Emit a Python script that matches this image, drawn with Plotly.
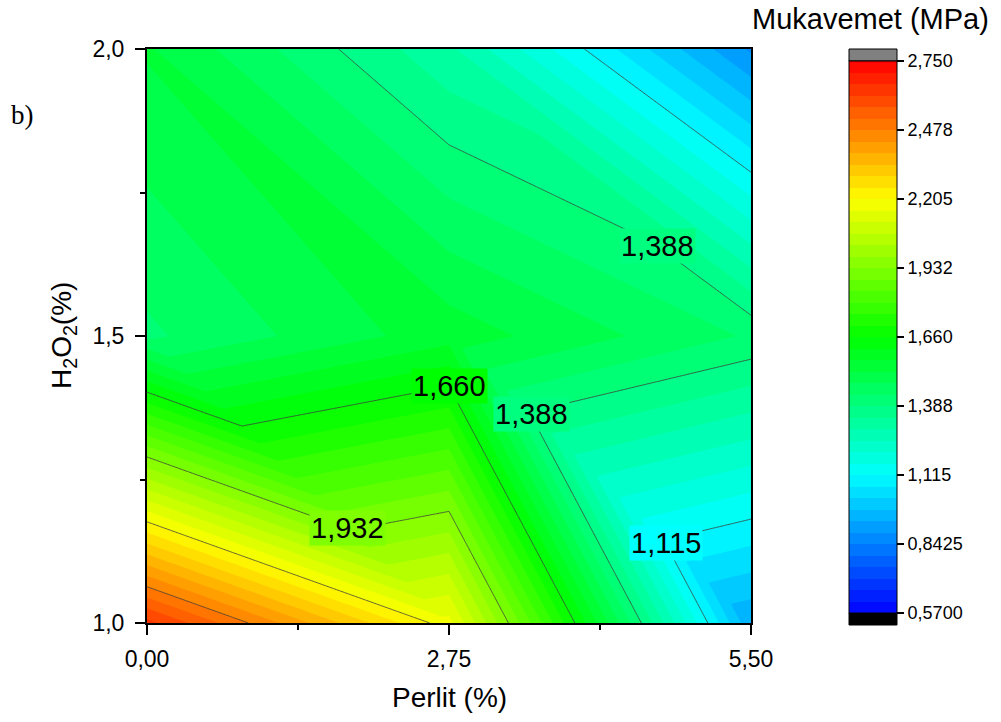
import numpy as np
import plotly.graph_objects as go

# ---- data ----
perlit = [0.0, 2.75, 5.5]            # x, Perlit (%)
h2o2 = [1.0, 1.5, 2.0]               # y, H2O2 (%)
# mukavemet[row=h2o2][col=perlit], MPa
mukavemet = [
    [2.630, 2.176, 0.938],
    [1.424, 1.550, 1.427],
    [1.529, 1.306, 0.880],
]
cbar_ticks = [0.57, 0.8425, 1.115, 1.3875, 1.66, 1.9325, 2.205, 2.4775, 2.75]
cbar_ticktext = ["0,5700", "0,8425", "1,115", "1,388", "1,660", "1,932", "2,205", "2,478", "2,750"]
line_levels = [1.115, 1.3875, 1.66, 1.9325, 2.205, 2.4775]
# contour labels as placed in the reference (level value, perlit, h2o2)
label_levels = [1.388, 1.660, 1.388, 1.932, 1.115]
label_x = [4.644, 2.750, 3.497, 1.830, 4.726]
label_y = [1.657, 1.413, 1.364, 1.166, 1.139]
z_lo, z_hi, n_bands = 0.57, 2.75, 48

# ---- triangulated linear surface (as Origin renders XYZ contours) ----
X = np.asarray(perlit); Y = np.asarray(h2o2); Z = np.asarray(mukavemet)
gx = np.linspace(X[0], X[-1], 441)
gy = np.linspace(Y[0], Y[-1], 301)
GX, GY = np.meshgrid(gx, gy)
i = np.clip(np.searchsorted(X, GX, side="right") - 1, 0, len(X) - 2)
j = np.clip(np.searchsorted(Y, GY, side="right") - 1, 0, len(Y) - 2)
u = (GX - X[i]) / (X[i + 1] - X[i])
v = (GY - Y[j]) / (Y[j + 1] - Y[j])
z00 = Z[j, i]; z10 = Z[j, i + 1]; z01 = Z[j + 1, i]; z11 = Z[j + 1, i + 1]
lower = (u + v) <= 1
f_low = z00 + u * (z10 - z00) + v * (z01 - z00)
f_up = z11 + (1 - u) * (z01 - z11) + (1 - v) * (z10 - z11)
GZ = np.where(lower, f_low, f_up).astype(np.float32)

FONT = "Liberation Sans"
rainbow = [[0, "#0000ff"], [0.25, "#00ffff"], [0.5, "#00ff00"], [0.75, "#ffff00"], [1, "#ff0000"]]
size = (z_hi - z_lo) / n_bands


def rainbow_color(val):
    f = min(max((val - z_lo) / (z_hi - z_lo), 0), 1)
    stops = [(0, (0, 0, 255)), (0.25, (0, 255, 255)), (0.5, (0, 255, 0)), (0.75, (255, 255, 0)), (1, (255, 0, 0))]
    for (a, ca), (b, cb) in zip(stops[:-1], stops[1:]):
        if f <= b:
            t = (f - a) / (b - a)
            c = [round(ca[k] + t * (cb[k] - ca[k])) for k in range(3)]
            return "rgb(%d,%d,%d)" % tuple(c)
    return "rgb(255,0,0)"


fig = go.Figure()
fig.add_trace(go.Contour(
    x=gx, y=gy, z=GZ,
    colorscale=rainbow, zmin=z_lo, zmax=z_hi,
    contours=dict(start=z_lo, end=z_hi, size=size, coloring="fill", showlines=False),
    line=dict(width=0),
    hoverinfo="skip",
    colorbar=dict(
        x=(849 - 147) / 604, xanchor="left", xpad=0, ypad=0,
        y=(623 - 337) / 574, yanchor="middle",
        lenmode="pixels", len=552, thickness=48, thicknessmode="pixels",
        outlinecolor="black", outlinewidth=1,
        tickvals=cbar_ticks, ticktext=cbar_ticktext,
        ticks="outside", ticklen=7, tickwidth=1.5, tickcolor="black",
        tickfont=dict(family=FONT, size=18, color="black"),
    ),
))
for lv in line_levels:
    fig.add_trace(go.Contour(
        x=gx, y=gy, z=GZ, showscale=False, hoverinfo="skip",
        contours=dict(start=lv, end=lv, size=1, coloring="none", showlabels=False),
        line=dict(color="#3c3c3c", width=0.8),
    ))

for lv, lx, ly in zip(label_levels, label_x, label_y):
    fig.add_annotation(x=lx, y=ly, xref="x", yref="y", text=("%.3f" % lv).replace(".", ","),
                       showarrow=False, xanchor="center", yanchor="middle",
                       bgcolor=rainbow_color(lv), borderpad=1,
                       font=dict(family=FONT, size=29, color="black"))

axis_common = dict(showline=True, linewidth=2, linecolor="black", mirror=True,
                   ticks="outside", ticklen=10, tickwidth=2, tickcolor="black",
                   showgrid=False, zeroline=False,
                   tickfont=dict(family=FONT, size=23, color="black"))
fig.update_xaxes(range=[0, 5.5], tickvals=perlit, tickformat=".2f",
                 minor=dict(tickvals=[1.375, 4.125], ticks="outside", ticklen=5, tickwidth=2, tickcolor="black"),
                 ticklabelstandoff=4, **axis_common)
fig.update_yaxes(range=[1, 2], tickvals=h2o2, tickformat=".1f",
                 minor=dict(tickvals=[1.25, 1.75], ticks="outside", ticklen=5, tickwidth=2, tickcolor="black"),
                 ticklabelstandoff=6, **axis_common)

# over/under caps of the colour bar
x0c, x1c = (849 - 147) / 604, (897 - 147) / 604
fig.add_shape(type="rect", xref="paper", yref="paper", x0=x0c, x1=x1c,
              y0=(623 - 61) / 574, y1=1.0, fillcolor="#808080", line=dict(color="black", width=1))
fig.add_shape(type="rect", xref="paper", yref="paper", x0=x0c, x1=x1c,
              y0=(623 - 625) / 574, y1=(623 - 613) / 574, fillcolor="black", line=dict(color="black", width=1))

fig.add_annotation(text="Mukavemet (MPa)", xref="paper", yref="paper",
                   x=(871 - 147) / 604, y=1 + (49 - 19) / 574, xanchor="center", yanchor="middle",
                   showarrow=False, font=dict(family=FONT, size=29, color="black"))
fig.add_annotation(text="Perlit (%)", xref="paper", yref="paper",
                   x=(449 - 147) / 604, y=-(697 - 623) / 574, xanchor="center", yanchor="middle",
                   showarrow=False, font=dict(family=FONT, size=28, color="black"))
fig.add_annotation(text="H<sub>2</sub>O<sub>2</sub>(%)", xref="paper", yref="paper",
                   x=(63 - 147) / 604, y=(623 - 336) / 574, xanchor="center", yanchor="middle",
                   textangle=-90, showarrow=False, font=dict(family=FONT, size=28, color="black"))
fig.add_annotation(text="b)", xref="paper", yref="paper",
                   x=(9 - 147) / 604, y=(623 - 115) / 574, xanchor="left", yanchor="middle",
                   showarrow=False, font=dict(family="Liberation Serif", size=27, color="black"))

fig.update_layout(width=1001, height=722, margin=dict(l=147, r=250, t=49, b=99),
                  paper_bgcolor="white", plot_bgcolor="white", separators=",.",
                  showlegend=False)
fig.write_html("out.html", config={"displayModeBar": False},
               post_script="document.body.style.margin='0';")
